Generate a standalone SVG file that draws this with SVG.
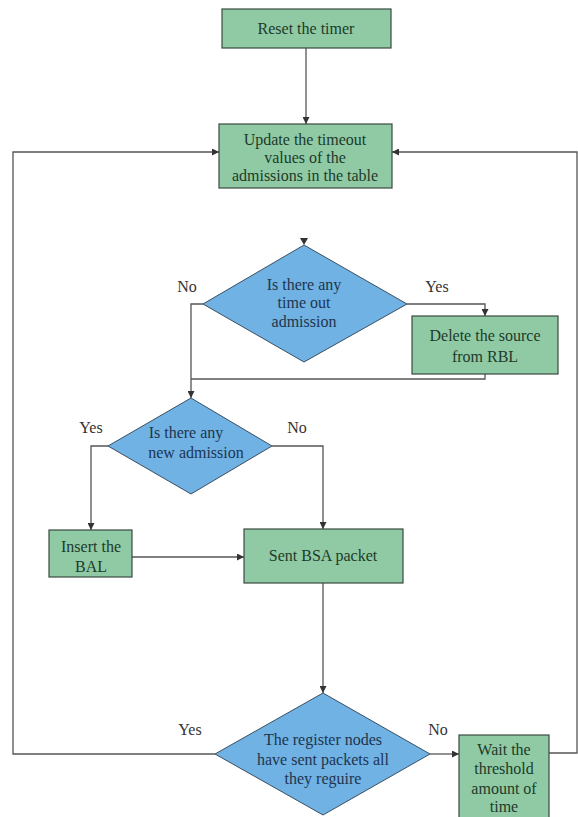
<svg xmlns="http://www.w3.org/2000/svg" width="578" height="817" viewBox="0 0 578 817">
<style>
.box{fill:#90caa5;stroke:#3a4a40;stroke-width:1.2}
.dia{fill:#6fb2e3;stroke:#3a4f63;stroke-width:1}
.t{font-family:'Liberation Serif','Times New Roman','DejaVu Serif',serif;font-size:16px;fill:#1d3b2a;text-anchor:middle}
.dt{font-family:'Liberation Serif','Times New Roman','DejaVu Serif',serif;font-size:16px;fill:#1e3550;text-anchor:middle}
.lbl{font-family:'Liberation Serif','Times New Roman','DejaVu Serif',serif;font-size:16px;fill:#333;text-anchor:middle}
.c{fill:none;stroke:#555;stroke-width:1.3}
</style>
<defs>
<marker id="ah" viewBox="0 0 10 10" refX="10" refY="5" markerWidth="7" markerHeight="7" markerUnits="userSpaceOnUse" orient="auto">
<path d="M0,0 L10,5 L0,10 z" fill="#333"/>
</marker>
</defs>
<rect width="578" height="817" fill="#fff"/>
<g id="connectors">
<path class="c" d="M306,48 V124" marker-end="url(#ah)"/>
<path class="c" d="M215,754 H13 V152 H219" marker-end="url(#ah)"/>
<path class="c" d="M549,753 H577 V152 H392" marker-end="url(#ah)"/>
<polygon points="300,238 308,238 304,245" fill="#333"/>
<path class="c" d="M407,304 H485 V316" marker-end="url(#ah)"/>
<path class="c" d="M203,304 H191 V398" marker-end="url(#ah)"/>
<path class="c" d="M485,374 V379 H191"/>
<path class="c" d="M108,446 H91 V530" marker-end="url(#ah)"/>
<path class="c" d="M272,446 H323 V529" marker-end="url(#ah)"/>
<path class="c" d="M132,557 H244" marker-end="url(#ah)"/>
<path class="c" d="M323,583 V693" marker-end="url(#ah)"/>
<path class="c" d="M430,754 H459" marker-end="url(#ah)"/>
</g>
<g id="reset">
<rect class="box" x="222" y="9" width="169" height="39"/>
<text class="t" x="306" y="34">Reset the timer</text>
</g>
<g id="update">
<rect class="box" x="219" y="124" width="173" height="64"/>
<text class="t" x="305" y="145">Update the timeout</text>
<text class="t" x="305" y="163">values of the</text>
<text class="t" x="305" y="181">admissions in the table</text>
</g>
<g id="timeout">
<polygon class="dia" points="304,245 407,304 304,362 203,304"/>
<text class="dt" x="304" y="290">Is there any</text>
<text class="dt" x="304" y="308">time out</text>
<text class="dt" x="304" y="327">admission</text>
</g>
<g id="delete">
<rect class="box" x="412" y="316" width="146" height="58"/>
<text class="t" x="485" y="341">Delete the source</text>
<text class="t" x="485" y="362">from RBL</text>
</g>
<g id="newadm">
<polygon class="dia" points="191,398 272,446 191,494 108,446"/>
<text class="dt" x="186" y="438">Is there any</text>
<text class="dt" x="196" y="458">new admission</text>
</g>
<g id="insert">
<rect class="box" x="49" y="530" width="83" height="47"/>
<text class="t" x="91" y="552">Insert the</text>
<text class="t" x="91" y="572">BAL</text>
</g>
<g id="sent">
<rect class="box" x="244" y="529" width="159" height="54"/>
<text class="t" x="323" y="561">Sent BSA packet</text>
</g>
<g id="register">
<polygon class="dia" points="323,693 430,754 323,815 215,754"/>
<text class="dt" x="323" y="745">The register nodes</text>
<text class="dt" x="323" y="765">have sent packets all</text>
<text class="dt" x="323" y="784">they reguire</text>
</g>
<g id="wait">
<rect class="box" x="459" y="735" width="90" height="90"/>
<text class="t" x="504" y="755">Wait the</text>
<text class="t" x="504" y="774">threshold</text>
<text class="t" x="504" y="794">amount of</text>
<text class="t" x="504" y="812">time</text>
</g>
<g id="labels">
<text class="lbl" x="187" y="292">No</text>
<text class="lbl" x="437" y="292">Yes</text>
<text class="lbl" x="91" y="433">Yes</text>
<text class="lbl" x="297" y="433">No</text>
<text class="lbl" x="190" y="735">Yes</text>
<text class="lbl" x="438" y="735">No</text>
</g>
</svg>
